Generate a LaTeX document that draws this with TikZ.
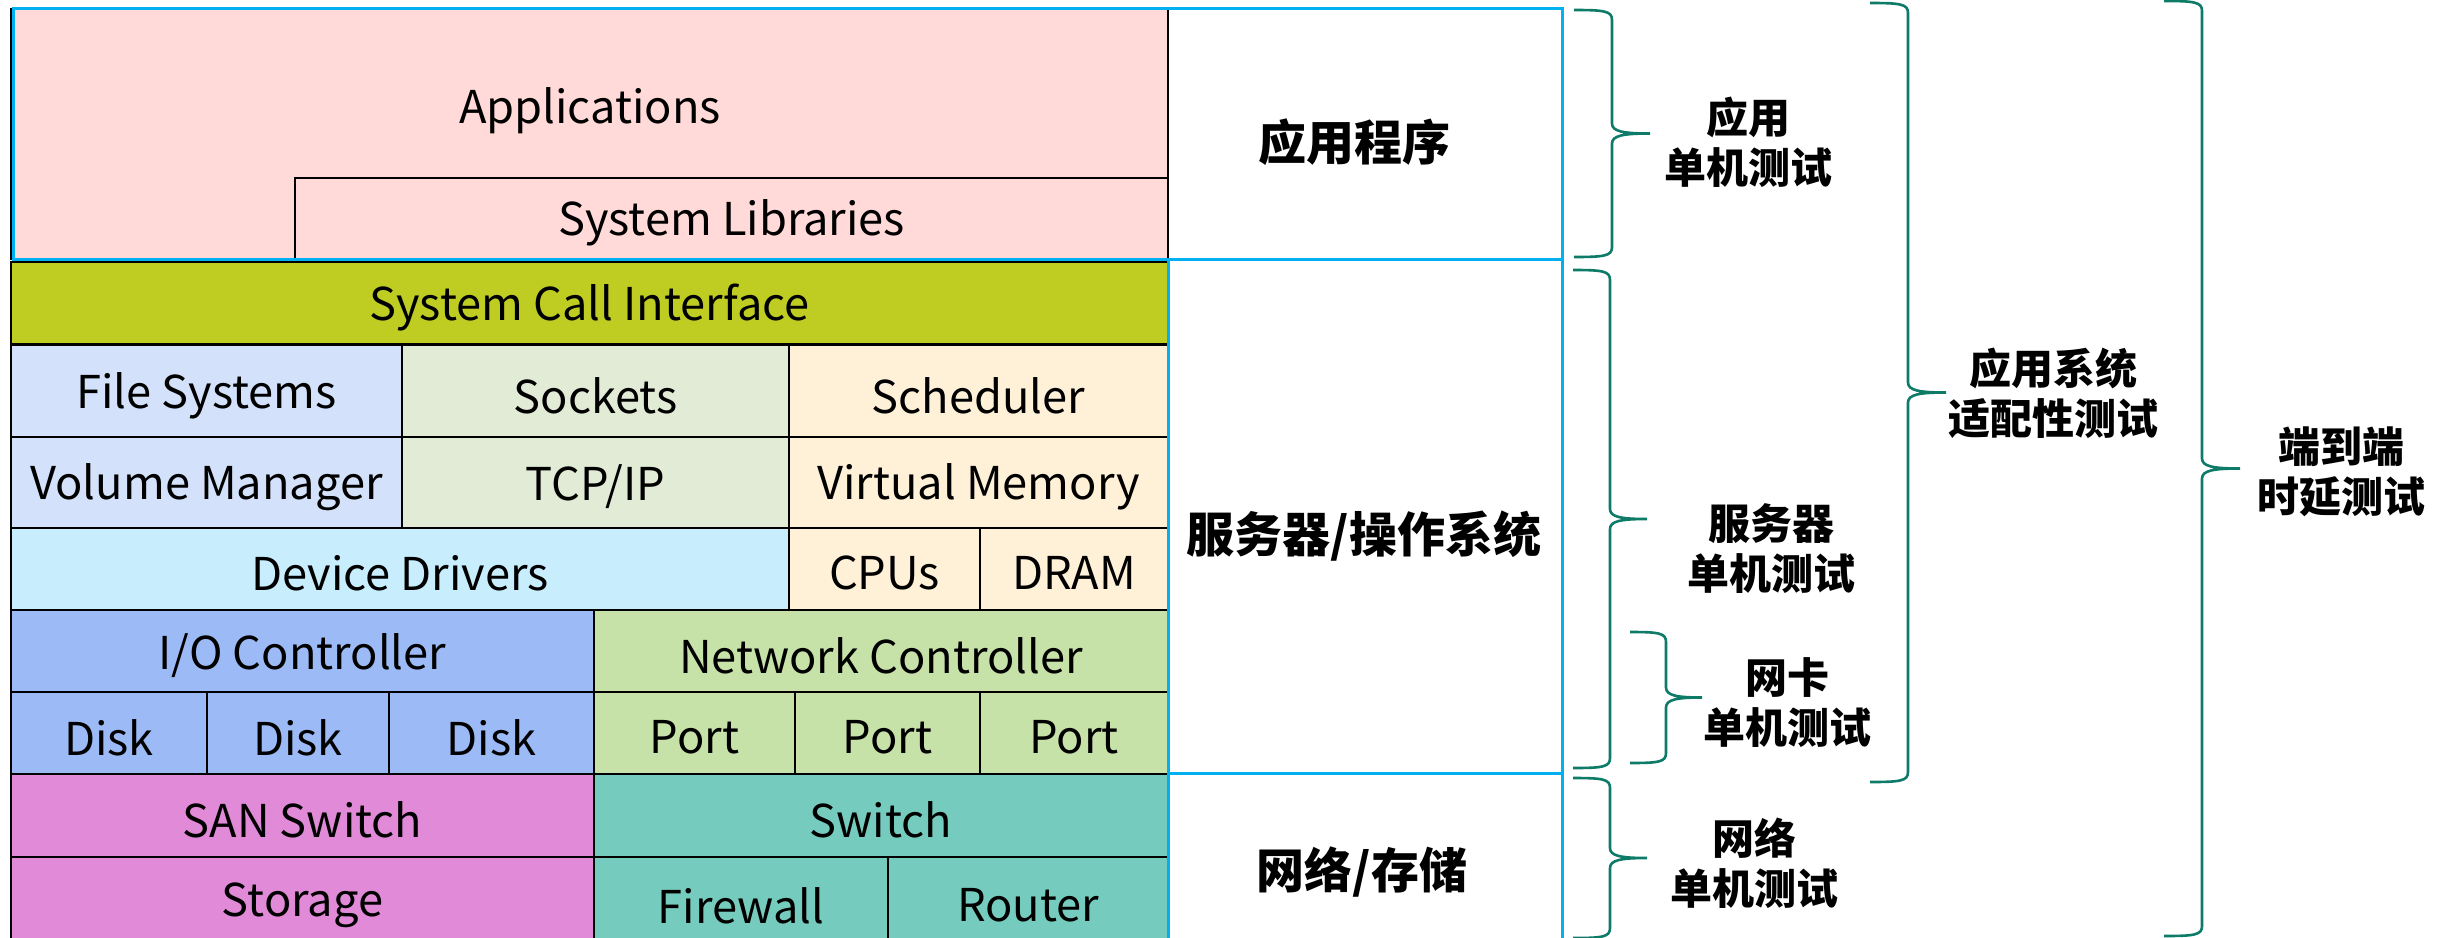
\documentclass[tikz,border=0pt]{standalone}
\usepackage{fontspec}
\setmainfont{Noto Sans CJK SC}
\newfontfamily\cjkfont{Noto Sans CJK SC}
\newcommand\enfont{\cjkfont\fontsize{22.6}{26}\selectfont}
\definecolor{cyanln}{HTML}{00B0F0}
\definecolor{pinkA}{HTML}{FFDAD8}
\definecolor{oliveA}{HTML}{BFCD23}
\definecolor{lblueA}{HTML}{D3E2FA}
\definecolor{lgreenA}{HTML}{E1EBD5}
\definecolor{creamA}{HTML}{FFF1D8}
\definecolor{lcyanA}{HTML}{C8EDFC}
\definecolor{mblueA}{HTML}{9CBAF6}
\definecolor{mgreenA}{HTML}{C6E2A9}
\definecolor{magentaA}{HTML}{E08AD8}
\definecolor{tealA}{HTML}{75CCBE}
\definecolor{braceA}{HTML}{0E7A68}
\newcommand\blk[7]{\node[blk,fill=#6,minimum width={(#4-#2)*0.5pt},minimum height={(#5-#3)*0.5pt}] (#1) at ({(#2+#4)/2},{(#3+#5)/2}) {\raisebox{-2.2pt}[\height][\depth]{#7}};}
\newcommand\rbr[4]{%
 \pgfmathsetmacro\bym{(#2+#3)/2}%
 \pgfmathsetmacro\bxs{#1+#4}%
 \pgfmathsetmacro\bxt{#1+2*#4}%
 \draw[brc] (#1,#2) .. controls ({#1+0.8*#4},{#2}) and ({\bxs},{#2+1}) .. ({\bxs},{#2+10})
   -- ({\bxs},{\bym-10})
   .. controls ({\bxs},{\bym-2}) and ({\bxs+0.3*#4},{\bym}) .. ({\bxt},{\bym})
   .. controls ({\bxs+0.3*#4},{\bym}) and ({\bxs},{\bym+2}) .. ({\bxs},{\bym+10})
   -- ({\bxs},{#3-10})
   .. controls ({\bxs},{#3-1}) and ({#1+0.8*#4},{#3}) .. (#1,#3);}
\begin{document}
\begin{tikzpicture}[x=0.5pt,y=-0.5pt,
  blk/.style={draw=black,line width=1.2pt,inner sep=0pt,outer sep=0pt,font=\enfont},
  lbl/.style={font=\enfont,inner sep=0pt},
  zh/.style={font=\cjkfont\bfseries\fontsize{24}{28}\selectfont,inner sep=0pt},
  tst/.style={font=\cjkfont\bfseries\fontsize{21}{25}\selectfont,align=center,inner sep=0pt},
  cybox/.style={draw=cyanln,line width=1.5pt},
  brc/.style={draw=braceA,line width=1.3pt}]
\useasboundingbox (0,0) rectangle (2455,937);
% application layer
\blk{app}{11}{9}{1168}{259}{pinkA}{}
\blk{syslib}{295}{178}{1168}{259}{pinkA}{System Libraries}
% OS layer
\blk{sci}{11}{262}{1168}{344}{oliveA}{System Call Interface}
\blk{fs}{11}{345}{402}{437}{lblueA}{File Systems}
\blk{sock}{402}{345}{789}{437}{lgreenA}{Sockets}
\blk{sched}{789}{345}{1168}{437}{creamA}{Scheduler}
\blk{vm}{11}{437}{402}{528}{lblueA}{Volume Manager}
\blk{tcp}{402}{437}{789}{528}{lgreenA}{TCP/IP}
\blk{vmem}{789}{437}{1168}{528}{creamA}{Virtual Memory}
\blk{dd}{11}{528}{789}{610}{lcyanA}{Device Drivers}
\blk{cpu}{789}{528}{980}{610}{creamA}{CPUs}
\blk{dram}{980}{528}{1168}{610}{creamA}{DRAM}
\blk{ioc}{11}{610}{594}{692}{mblueA}{I/O Controller}
\blk{nc}{594}{610}{1168}{692}{mgreenA}{Network Controller}
\blk{d1}{11}{692}{207}{774}{mblueA}{Disk}
\blk{d2}{207}{692}{389}{774}{mblueA}{Disk}
\blk{d3}{389}{692}{594}{774}{mblueA}{Disk}
\blk{p1}{594}{692}{795}{774}{mgreenA}{Port}
\blk{p2}{795}{692}{980}{774}{mgreenA}{Port}
\blk{p3}{980}{692}{1168}{774}{mgreenA}{Port}
% network / storage
\blk{san}{11}{774}{594}{857}{magentaA}{SAN Switch}
\blk{sw}{594}{774}{1168}{857}{tealA}{Switch}
\blk{stor}{11}{857}{594}{945}{magentaA}{Storage}
\blk{fw}{594}{857}{888}{945}{tealA}{Firewall}
\blk{rt}{888}{857}{1168}{945}{tealA}{Router}
\node[lbl] (apptxt) at (590,111) {Applications};
% cyan frames
\draw[cybox] (13,8) rectangle (1562,259);
\draw[cybox] (1168,259) rectangle (1562,773);
\draw[cybox] (1168,773) rectangle (1562,950);
% layer names
\node[zh] (t1) at (1354,142) {应用程序};
\node[zh] (t2) at (1364,536) {服务器/操作系统};
\node[zh] (t3) at (1362,872) {网络/存储};
% braces
\rbr{1574}{10}{257}{38}
\rbr{1573}{270}{768}{37}
\rbr{1630}{632}{763}{36}
\rbr{1573}{778}{938}{37}
\rbr{1870}{3}{782}{38}
\rbr{2164}{1}{936}{38}
% test labels
\node[tst] (r1) at (1748,142) {应用\\单机测试};
\node[tst] (r2) at (1771,549) {服务器\\单机测试};
\node[tst] (r3) at (1787,703) {网卡\\单机测试};
\node[tst] (r4) at (1754,863) {网络\\单机测试};
\node[tst] (r5) at (2053,393) {应用系统\\适配性测试};
\node[tst] (r6) at (2341,472) {端到端\\时延测试};
\end{tikzpicture}
\end{document}
